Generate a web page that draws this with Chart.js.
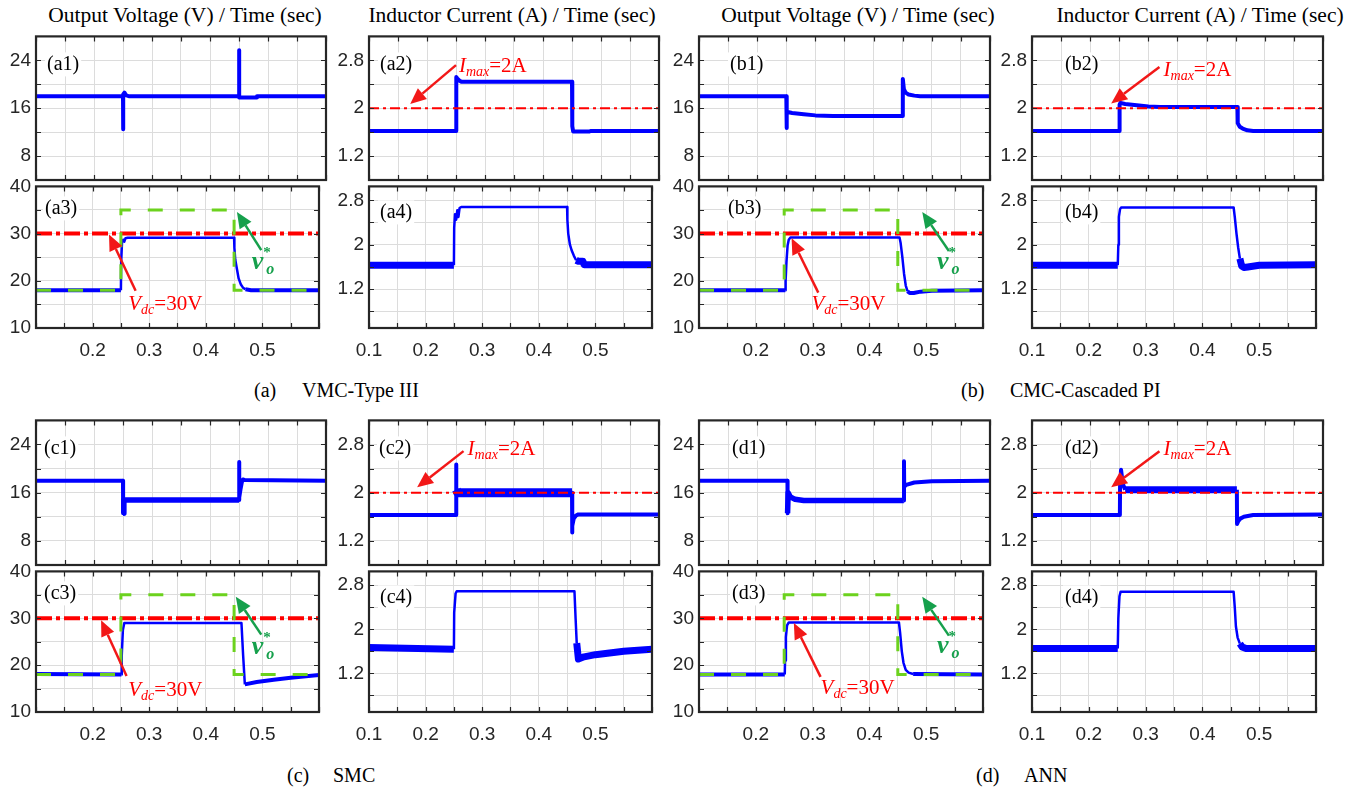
<!DOCTYPE html>
<html><head><meta charset="utf-8">
<script src="https://cdn.jsdelivr.net/npm/chart.js@4.4.1/dist/chart.umd.min.js"></script>
<style>
html,body{margin:0;padding:0;background:#fff;}
body{width:1355px;height:789px;position:relative;overflow:hidden;}
.txt{position:absolute;font-family:"Liberation Serif","Times New Roman",serif;color:#000;white-space:nowrap;line-height:24px;}
.title{font-size:21.5px;transform:translateX(-50%);top:3px;}
.cap{font-size:20px;}
canvas{position:absolute;}
</style></head><body>
<div class="txt title" style="left:185px">Output Voltage (V) / Time (sec)</div>
<div class="txt title" style="left:512px">Inductor Current (A) / Time (sec)</div>
<div class="txt title" style="left:858px">Output Voltage (V) / Time (sec)</div>
<div class="txt title" style="left:1200px">Inductor Current (A) / Time (sec)</div>
<div class="txt cap" style="left:254px;top:378px">(a)</div>
<div class="txt cap" style="left:302px;top:378px">VMC-Type III</div>
<div class="txt cap" style="left:961px;top:378px">(b)</div>
<div class="txt cap" style="left:1010px;top:378px">CMC-Cascaded PI</div>
<div class="txt cap" style="left:287px;top:763px">(c)</div>
<div class="txt cap" style="left:333px;top:763px">SMC</div>
<div class="txt cap" style="left:976px;top:763px">(d)</div>
<div class="txt cap" style="left:1024px;top:763px">ANN</div>
<script>
// ---------- axes: gridlines and tick labels ----------
const xGrid = [0.1,0.15,0.2,0.25,0.3,0.35,0.4,0.45,0.5,0.55,0.6];
const xLabelsVolt = [0.2,0.3,0.4,0.5];
const xLabelsCurr = [0.1,0.2,0.3,0.4,0.5];
const voltTopGrid = [4,8,12,16,20,24,28];
const voltTopLabels = [8,16,24];
const voltBotGrid = [10,15,20,25,30,35,40];
const voltBotLabels = [10,20,30,40];
const currTopGrid = [0.8,1.2,1.6,2,2.4,2.8,3.2];
const currBotGrid = [0.8,1.2,1.6,2,2.4,2.8];
const currLabels = [1.2,2,2.8];

// ---------- limits & reference ----------
const imaxLevel = 2;
const vdcLevel = 30;
const refTime = [0.1,0.25,0.25,0.45,0.45,0.6];
const refVolt = [18,18,35,35,18,18];

// ---------- (a) VMC-Type III ----------
const timeA1 = [0.1,0.25,0.2501,0.2506,0.2525,0.255,0.26,0.45,0.4501,0.4505,0.48,0.481,0.6];
const voltA1 = [18,18,12.5,18.3,18.6,18.2,18,18,25.7,17.8,17.8,18,18];
const timeA2 = [0.1,0.25,0.2505,0.252,0.256,0.26,0.45,0.4505,0.452,0.48,0.482,0.6];
const currA2 = [1.62,1.62,2.52,2.5,2.46,2.44,2.44,1.7,1.61,1.61,1.62,1.62];
const timeA3 = [0.1,0.25,0.2505,0.252,0.254,0.256,0.258,0.262,0.45,0.4505,0.452,0.455,0.458,0.462,0.466,0.47,0.48,0.6];
const voltA3 = [18,18,24,28.2,28.7,28.3,29,29.1,29.1,27,24.5,22.5,20.5,19.2,18.5,18.2,18,18];
const timeA4 = [0.1,0.25,0.2505,0.252,0.254,0.256,0.258,0.26,0.263,0.45,0.4505,0.452,0.455,0.458,0.462,0.466,0.47,0.478,0.48,0.6];
const currA4 = [1.63,1.63,2.3,2.55,2.45,2.62,2.5,2.66,2.68,2.68,2.45,2.2,2.0,1.9,1.8,1.72,1.7,1.7,1.64,1.64];

// ---------- (b) CMC-Cascaded PI ----------
const timeB1 = [0.1,0.25,0.2502,0.2512,0.26,0.28,0.3,0.33,0.45,0.4502,0.452,0.455,0.46,0.47,0.48,0.6];
const voltB1 = [18,18,12.7,15.4,15.2,15.0,14.8,14.7,14.7,20.9,19.2,18.6,18.3,18.1,18,18];
const timeB2 = [0.1,0.25,0.2505,0.252,0.26,0.28,0.3,0.32,0.453,0.4535,0.457,0.462,0.47,0.48,0.6];
const currB2 = [1.62,1.62,2.06,2.09,2.07,2.05,2.03,2.02,2.02,1.75,1.69,1.66,1.63,1.62,1.62];
const timeB3 = [0.1,0.252,0.2525,0.254,0.256,0.258,0.261,0.453,0.455,0.458,0.461,0.464,0.467,0.471,0.478,0.49,0.51,0.6];
const voltB3 = [18,18,20,24,27.5,28.7,29.2,29.2,28,25,21.5,19,17.8,17.4,17.4,17.7,17.9,18];
const timeB4 = [0.1,0.251,0.252,0.253,0.255,0.257,0.455,0.457,0.46,0.463,0.466,0.469,0.473,0.48,0.5,0.6];
const currB4 = [1.63,1.63,2.0,2.5,2.64,2.67,2.67,2.5,2.2,1.95,1.75,1.62,1.59,1.6,1.63,1.64];

// ---------- (c) SMC ----------
const timeC1 = [0.1,0.25,0.2502,0.2515,0.26,0.45,0.4502,0.4506,0.4525,0.455,0.457,0.46,0.6];
const voltC1 = [18,18,12.6,14.8,14.8,14.8,21.1,15.2,16.5,17.8,18.2,18.1,18];
const timeC2 = [0.1,0.25,0.2503,0.2506,0.253,0.45,0.4503,0.4506,0.453,0.457,0.461,0.6];
const currC2 = [1.63,1.63,2.47,2.05,2.0,2.0,1.34,1.45,1.57,1.62,1.64,1.64];
const timeC3 = [0.1,0.251,0.2515,0.2535,0.256,0.463,0.466,0.469,0.49,0.52,0.55,0.6];
const voltC3 = [18.1,18,22,27.5,29,29,22,15.9,16.4,16.9,17.3,17.9];
const timeC4 = [0.1,0.25,0.2505,0.253,0.255,0.463,0.465,0.467,0.47,0.48,0.5,0.525,0.55,0.6];
const currC4 = [1.67,1.64,2.3,2.65,2.69,2.69,2.2,1.75,1.46,1.5,1.54,1.57,1.6,1.64];

// ---------- (d) ANN ----------
const timeD1 = [0.1,0.252,0.2522,0.2532,0.257,0.265,0.28,0.452,0.4522,0.4526,0.456,0.47,0.5,0.6];
const voltD1 = [18,18,12.6,16,15.3,14.9,14.7,14.7,21.2,17.0,17.3,17.7,17.9,18];
const timeD2 = [0.1,0.251,0.2513,0.253,0.256,0.26,0.452,0.4523,0.454,0.458,0.464,0.48,0.6];
const currD2 = [1.63,1.63,2.1,2.38,2.15,2.05,2.05,1.48,1.52,1.57,1.6,1.63,1.64];
const timeD3 = [0.1,0.251,0.2515,0.253,0.255,0.258,0.452,0.454,0.457,0.46,0.464,0.469,0.477,0.6];
const voltD3 = [18,18,21,26,28.5,29.1,29.1,27,23,20.5,19,18.4,18.1,18];
const timeD4 = [0.1,0.251,0.252,0.254,0.256,0.455,0.457,0.459,0.462,0.466,0.47,0.477,0.6];
const currD4 = [1.65,1.65,2.2,2.6,2.68,2.68,2.4,2.05,1.85,1.74,1.68,1.65,1.65];

// ---------- styling / layout ----------
const SANS = '"Liberation Sans", Arial, sans-serif';
const SERIF = '"Liberation Serif", "Times New Roman", serif';
const BLUE = '#0000ff', RED = '#ff0000', GREEN_REF = '#6cd21e', GREEN_ANN = '#16a04c', RED_ANN = '#f21818';
const AXIS_COLOR = '#262626', GRID_COLOR = '#dcdcdc';
const COL = {aV:[36,326], aI:[369,659], bV:[699,990], bI:[1032,1323]};
const ROW = {r1:[34,180], r2:[184,328], r3:[418,565], r4:[569,712]};

const KIND = {
  v1:{min:4, max:28, grid:voltTopGrid, labels:voltTopLabels, xl:null, labelDy:28},
  i1:{min:0.8, max:3.2, grid:currTopGrid, labels:currLabels, xl:null, labelDy:28, red:{level:imaxLevel, w:2, dash:[10,4,3,4]}},
  v2:{min:10, max:40, grid:voltBotGrid, labels:voltBotLabels, xl:xLabelsVolt, labelDy:22, red:{level:vdcLevel, w:4, dash:[16,4,4,4]}, ref:true},
  i2:{min:0.5, max:3.05, grid:currBotGrid, labels:currLabels, xl:xLabelsCurr, labelDy:26}
};

const WIDTH = {
  plain4: () => 4,
  lowBand: (a,b) => (a<16.5 && b<16.5) ? 5.5 : 4,
  band9: (a,b) => (a>1.9 && a<2.12 && b>1.9 && b<2.12) ? 9 : 4,
  band7: (a,b) => (a>1.98 && a<2.12 && b>1.98 && b<2.12) ? 7 : 4,
  volt2: (a,b) => (a<=18.3 && b<=18.3) ? 4 : 2.5,
  curr2: (a,b) => (a<1.76 && b<1.76) ? 7 : 2.5
};

const imaxParts = [{t:'I',s:'italic',z:21},{t:'max',s:'italic',z:14,dy:4},{t:'=2A',s:'',z:21}];
const vdcParts = [{t:'V',s:'italic',z:21},{t:'dc',s:'italic',z:14,dy:4},{t:'=30V',s:'',z:21}];
const vrefParts = [{t:'v',s:'italic bold',z:26},{t:'*',s:'bold',z:15,dy:-12,dx:0,stack:true},{t:'o',s:'italic bold',z:16,dy:5,dx:3}];

const panels = [
  {label:'(a1)', col:'aV', row:'r1', kind:'v1', t:timeA1, y:voltA1, dx:11, w:WIDTH.plain4},
  {label:'(a2)', col:'aI', row:'r1', kind:'i1', t:timeA2, y:currA2, dx:11, w:WIDTH.plain4,
    imax:{txt:[0.255,2.61], tail:[0.25,2.72], tip:[0.171,2.07]}},
  {label:'(a3)', col:'aV', row:'r2', kind:'v2', t:timeA3, y:voltA3, dx:9, w:WIDTH.volt2,
    vdc:{txt:[0.263,13.75], tail:[0.276,17.9], tip:[0.229,29.8]}, vref:{txt:[0.481,22.5], tail:[0.498,26.5], tip:[0.455,34.6]}},
  {label:'(a4)', col:'aI', row:'r2', kind:'i2', t:timeA4, y:currA4, dx:11, w:WIDTH.curr2},

  {label:'(b1)', col:'bV', row:'r1', kind:'v1', t:timeB1, y:voltB1, dx:31, w:WIDTH.plain4},
  {label:'(b2)', col:'bI', row:'r1', kind:'i1', t:timeB2, y:currB2, dx:33, w:WIDTH.plain4,
    imax:{txt:[0.326,2.54], tail:[0.319,2.69], tip:[0.236,2.08]}},
  {label:'(b3)', col:'bV', row:'r2', kind:'v2', t:timeB3, y:voltB3, dx:29, w:WIDTH.volt2,
    vdc:{txt:[0.298,13.75], tail:[0.31,17.5], tip:[0.263,29]}, vref:{txt:[0.519,22.5], tail:[0.54,26.3], tip:[0.493,34.6]}},
  {label:'(b4)', col:'bI', row:'r2', kind:'i2', t:timeB4, y:currB4, dx:33, w:WIDTH.curr2},

  {label:'(c1)', col:'aV', row:'r3', kind:'v1', t:timeC1, y:voltC1, dx:8, w:WIDTH.lowBand},
  {label:'(c2)', col:'aI', row:'r3', kind:'i1', t:timeC2, y:currC2, dx:10, w:WIDTH.band9,
    imax:{txt:[0.27,2.63], tail:[0.263,2.69], tip:[0.183,2.09]}},
  {label:'(c3)', col:'aV', row:'r4', kind:'v2', t:timeC3, y:voltC3, dx:8, w:WIDTH.volt2,
    vdc:{txt:[0.263,13.5], tail:[0.26,17.7], tip:[0.215,29.6]}, vref:{txt:[0.481,22.3], tail:[0.498,26.5], tip:[0.453,34.6]}},
  {label:'(c4)', col:'aI', row:'r4', kind:'i2', t:timeC4, y:currC4, dx:11, w:WIDTH.curr2},

  {label:'(d1)', col:'bV', row:'r3', kind:'v1', t:timeD1, y:voltD1, dx:33, w:WIDTH.lowBand},
  {label:'(d2)', col:'bI', row:'r3', kind:'i1', t:timeD2, y:currD2, dx:33, w:WIDTH.band7,
    imax:{txt:[0.326,2.63], tail:[0.319,2.69], tip:[0.236,2.09]}},
  {label:'(d3)', col:'bV', row:'r4', kind:'v2', t:timeD3, y:voltD3, dx:33, w:WIDTH.volt2,
    vdc:{txt:[0.314,13.75], tail:[0.314,17.5], tip:[0.267,29]}, vref:{txt:[0.519,22.5], tail:[0.54,26.3], tip:[0.493,34.6]}},
  {label:'(d4)', col:'bI', row:'r4', kind:'i2', t:timeD4, y:currD4, dx:33, w:WIDTH.curr2}
];

// ---------- drawing helpers ----------
function zip(ts, vs){ return ts.map((t,i)=>({x:t, y:vs[i]})); }
const near = (arr, v) => arr.some(a => Math.abs(a - v) < 1e-9);

function drawArrow(ctx, x0, y0, x1, y1, color){
  const ang = Math.atan2(y1-y0, x1-x0), hl = 16, hw = 7;
  const bx = x1 - hl*Math.cos(ang), by = y1 - hl*Math.sin(ang);
  ctx.save();
  ctx.strokeStyle = color; ctx.fillStyle = color; ctx.lineWidth = 2.5; ctx.setLineDash([]);
  ctx.beginPath(); ctx.moveTo(x0,y0); ctx.lineTo(bx,by); ctx.stroke();
  ctx.beginPath(); ctx.moveTo(x1,y1);
  ctx.lineTo(bx + hw*Math.sin(ang), by - hw*Math.cos(ang));
  ctx.lineTo(bx - hw*Math.sin(ang), by + hw*Math.cos(ang));
  ctx.closePath(); ctx.fill();
  ctx.restore();
}
function drawRich(ctx, x, y, parts, color){
  ctx.save(); ctx.fillStyle = color; ctx.textBaseline = 'alphabetic'; ctx.textAlign = 'left';
  let cx = x;
  for (const p of parts){
    ctx.font = `${p.s} ${p.z}px ${SERIF}`;
    ctx.fillText(p.t, cx + (p.dx||0), y + (p.dy||0));
    if (!p.stack) cx += ctx.measureText(p.t).width + (p.dx||0);
  }
  ctx.restore();
}

const framePlugin = {
  id:'frame',
  afterDatasetsDraw(chart){
    const p = chart.options.plugins.frame.panel;
    const {ctx, chartArea:a, scales:{x, y}} = chart;
    const P = (pt) => [x.getPixelForValue(pt[0]), y.getPixelForValue(pt[1])];
    if (p.imax){
      const s = P(p.imax.tail), e = P(p.imax.tip), t = P(p.imax.txt);
      drawArrow(ctx, s[0], s[1], e[0], e[1], RED_ANN);
      drawRich(ctx, t[0], t[1], imaxParts, RED);
    }
    if (p.vdc){
      const s = P(p.vdc.tail), e = P(p.vdc.tip), t = P(p.vdc.txt);
      drawArrow(ctx, s[0], s[1], e[0], e[1], RED_ANN);
      drawRich(ctx, t[0], t[1], vdcParts, RED);
    }
    if (p.vref){
      const s = P(p.vref.tail), e = P(p.vref.tip), t = P(p.vref.txt);
      drawArrow(ctx, s[0], s[1], e[0], e[1], GREEN_ANN);
      drawRich(ctx, t[0], t[1], vrefParts, GREEN_ANN);
    }
    // panel label with white background
    ctx.save();
    ctx.font = `20px ${SERIF}`;
    const lw = ctx.measureText(p.label).width;
    const lx = a.left + p.dx, ly = a.top + KIND[p.kind].labelDy;
    ctx.fillStyle = '#fff';
    ctx.fillRect(lx-2, ly-12, lw+4, 24);
    ctx.fillStyle = '#000'; ctx.textBaseline = 'middle'; ctx.textAlign = 'left';
    ctx.fillText(p.label, lx, ly);
    ctx.restore();
  },
  afterDraw(chart){
    const {ctx, chartArea:a, scales:{x, y}} = chart;
    ctx.save();
    ctx.strokeStyle = AXIS_COLOR; ctx.lineWidth = 1.2; ctx.setLineDash([]);
    const tl = 5;
    ctx.beginPath();
    x.ticks.forEach(tk => { const px = Math.round(x.getPixelForValue(tk.value))+0.5;
      ctx.moveTo(px, a.bottom); ctx.lineTo(px, a.bottom-tl); ctx.moveTo(px, a.top); ctx.lineTo(px, a.top+tl); });
    y.ticks.forEach(tk => { const py = Math.round(y.getPixelForValue(tk.value))+0.5;
      ctx.moveTo(a.left, py); ctx.lineTo(a.left+tl, py); ctx.moveTo(a.right, py); ctx.lineTo(a.right-tl, py); });
    ctx.stroke();
    ctx.lineWidth = 2.2;
    ctx.strokeRect(a.left, a.top, a.right-a.left, a.bottom-a.top);
    ctx.restore();
  }
};

function makeChart(p){
  const K = KIND[p.kind];
  const [L, R] = COL[p.col], [T, B] = ROW[p.row];
  const xh = K.xl ? 34 : 20;
  const W = (R - L) + 45 + 4, H = (B - T) + 14 + xh;
  const cv = document.createElement('canvas');
  cv.width = W; cv.height = H;
  cv.style.left = (L - 45) + 'px'; cv.style.top = (T - 14) + 'px';
  cv.style.width = W + 'px'; cv.style.height = H + 'px';
  document.body.appendChild(cv);

  const datasets = [];
  if (K.ref) datasets.push({data: zip(refTime, refVolt), borderColor: GREEN_REF, borderWidth: 3, borderDash:[15,17], borderCapStyle:'butt'});
  if (K.red) datasets.push({data: zip([0.1, 0.6], [K.red.level, K.red.level]), borderColor: RED, borderWidth: K.red.w, borderDash: K.red.dash, borderCapStyle:'butt'});
  const vals = p.y;
  datasets.push({data: zip(p.t, p.y), borderColor: BLUE, borderWidth: 4, borderJoinStyle:'round', borderCapStyle:'butt',
    segment:{borderWidth: ctx => p.w(vals[ctx.p0DataIndex], vals[ctx.p1DataIndex])}});

  const tickFont = {family: SANS, size: 19};
  new Chart(cv, {
    type:'line',
    data:{datasets},
    options:{
      responsive:false, animation:false, devicePixelRatio:1, events:[],
      layout:{padding:{left:5, right:4, top:14, bottom:0}},
      elements:{point:{radius:0}, line:{tension:0, fill:false}},
      plugins:{legend:{display:false}, tooltip:{enabled:false}, title:{display:false}, frame:{panel:p}},
      scales:{
        x:{type:'linear', min:0.1, max:0.6,
          afterBuildTicks: s => { s.ticks = xGrid.map(v => ({value:v})); },
          afterFit: s => { s.height = xh; },
          grid:{color:GRID_COLOR, lineWidth:1, drawTicks:false},
          border:{display:false},
          ticks:{display: !!K.xl, autoSkip:false, maxRotation:0, minRotation:0, padding:11, font:tickFont, color:AXIS_COLOR,
            callback: v => (K.xl && near(K.xl, v)) ? String(v) : ''}
        },
        y:{type:'linear', min:K.min, max:K.max,
          afterBuildTicks: s => { s.ticks = K.grid.map(v => ({value:v})); },
          afterFit: s => { s.width = 40; },
          grid:{color:GRID_COLOR, lineWidth:1, drawTicks:false},
          border:{display:false},
          ticks:{autoSkip:false, padding:5, font:tickFont, color:AXIS_COLOR,
            callback: v => near(K.labels, v) ? String(v) : ''}
        }
      }
    },
    plugins:[framePlugin]
  });
}
panels.forEach(makeChart);
</script>
</body></html>
